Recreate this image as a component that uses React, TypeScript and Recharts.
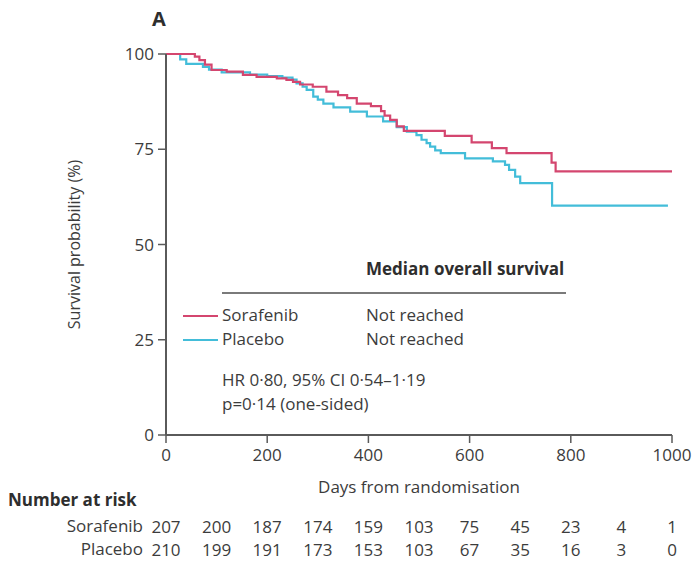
import React from 'react';
import { LineChart, Line, XAxis, YAxis } from 'recharts';

// Kaplan-Meier steps (days, survival %)
const sorafenibDays = [0, 57, 66, 77, 90, 120, 152, 179, 219, 238, 251, 265, 290, 317, 340, 358, 377, 405, 425, 432, 443, 456, 470, 551, 604, 644, 673, 762, 770, 1000];
const sorafenibPct = [100, 99.3, 98.4, 97.2, 95.8, 95.4, 94.5, 94.0, 93.6, 93.2, 92.7, 92.0, 91.4, 90.1, 89.2, 88.4, 87.0, 86.3, 85.0, 83.8, 82.7, 81.0, 79.8, 78.5, 76.8, 75.3, 74.0, 71.5, 69.2, 69.2];

const placeboDays = [0, 28, 40, 73, 85, 110, 166, 200, 230, 250, 258, 270, 278, 291, 300, 311, 331, 364, 397, 429, 456, 476, 495, 505, 515, 522, 532, 543, 591, 646, 670, 678, 690, 700, 763, 992];
const placeboPct = [100, 98.6, 97.4, 96.6, 95.9, 95.2, 94.6, 94.2, 93.8, 93.3, 92.3, 91.4, 90.6, 88.8, 88.0, 87.0, 86.0, 84.9, 83.6, 82.3, 80.8, 79.6, 78.7, 77.5, 76.6, 75.7, 74.7, 74.0, 72.6, 71.8, 70.9, 69.6, 67.8, 66.1, 60.2, 60.2];

const riskDays = [0, 100, 200, 300, 400, 500, 600, 700, 800, 900, 1000];
const sorafenibRisk = [207, 200, 187, 174, 159, 103, 75, 45, 23, 4, 1];
const placeboRisk = [210, 199, 191, 173, 153, 103, 67, 35, 16, 3, 0];
const xLabelled = [0, 200, 400, 600, 800, 1000];
const yTicks = [0, 25, 50, 75, 100];

const sorafenib = sorafenibDays.map((d, i) => ({ day: d, pct: sorafenibPct[i] }));
const placebo = placeboDays.map((d, i) => ({ day: d, pct: placeboPct[i] }));

const RED = '#d4466f';
const BLUE = '#43bdd9';
const AXIS = '#5a5a5a';
const TEXT = '#3c3c3c';
const FONT = '"Open Sans", sans-serif';

function RiskTick(props: any) {
  const { x, y, payload } = props;
  const v = payload.value;
  const idx = riskDays.indexOf(v);
  const axisY = y - 12;
  const labelled = xLabelled.includes(v);
  return (
    <g fontFamily={FONT} fontSize={17} fill={TEXT}>
      {labelled && <line x1={x} x2={x} y1={axisY} y2={axisY + 8} stroke={AXIS} strokeWidth={1.5} />}
      {labelled && (
        <text x={x} y={axisY + 26} textAnchor="middle" fill={TEXT}>{v}</text>
      )}
      <text x={x} y={axisY + 98} textAnchor="middle" fill={TEXT}>{sorafenibRisk[idx]}</text>
      <text x={x} y={axisY + 121} textAnchor="middle" fill={TEXT}>{placeboRisk[idx]}</text>
    </g>
  );
}

function Txt({ left, cy, size = 16, bold = false, children, width, align }: any) {
  return (
    <div
      style={{
        position: 'absolute',
        left,
        top: cy - size * 0.6,
        width,
        textAlign: align,
        fontSize: size,
        lineHeight: 1.1,
        fontWeight: bold ? 700 : 400,
        color: bold ? '#2e2e2e' : TEXT,
        whiteSpace: 'nowrap',
        fontFamily: FONT,
      }}
    >
      {children}
    </div>
  );
}

function Rule({ left, top, width, color, h = 2 }: any) {
  return <div style={{ position: 'absolute', left, top, width, height: h, background: color }} />;
}

export default function App() {
  return (
    <div style={{ position: 'absolute', left: 0, top: 0, width: 695, height: 561, background: '#fff', overflow: 'hidden' }}>
      <LineChart width={695} height={561} margin={{ top: 54, right: 23, bottom: 0, left: 0 }}>
        <XAxis
          type="number"
          dataKey="day"
          domain={[0, 1000]}
          ticks={riskDays}
          interval={0}
          height={126}
          tickSize={8}
          tickMargin={4}
          tickLine={false}
          axisLine={{ stroke: AXIS, strokeWidth: 2 }}
          tick={<RiskTick />}
          label={{ value: 'Days from randomisation', position: 'center', dy: -11, fill: TEXT, fontSize: 17, fontFamily: FONT }}
        />
        <YAxis
          type="number"
          domain={[0, 100]}
          ticks={yTicks}
          width={166}
          tickSize={8}
          tickMargin={4}
          axisLine={{ stroke: AXIS, strokeWidth: 2 }}
          tickLine={{ stroke: AXIS, strokeWidth: 1.5 }}
          tick={{ fill: TEXT, fontSize: 17, fontFamily: FONT }}
          label={{ value: 'Survival probability (%)', angle: -90, position: 'center', dx: -9, fill: TEXT, fontSize: 16, fontFamily: FONT }}
        />
        <Line data={placebo} dataKey="pct" type="stepAfter" stroke={BLUE} strokeWidth={2.2} dot={false} isAnimationActive={false} />
        <Line data={sorafenib} dataKey="pct" type="stepAfter" stroke={RED} strokeWidth={2.2} dot={false} isAnimationActive={false} />
      </LineChart>

      <Txt left={152} cy={20} size={20} bold>A</Txt>

      <Txt left={366} cy={270} size={17} bold>Median overall survival</Txt>
      <Rule left={222} top={292} width={344} color="#7a7a7a" />
      <Rule left={183} top={315} width={35} color={RED} />
      <Txt left={222} cy={316} size={17}>Sorafenib</Txt>
      <Txt left={366} cy={316} size={17}>Not reached</Txt>
      <Rule left={183} top={339} width={35} color={BLUE} />
      <Txt left={222} cy={340} size={17}>Placebo</Txt>
      <Txt left={366} cy={340} size={17}>Not reached</Txt>
      <Txt left={222} cy={381} size={17}>HR 0·80, 95% CI 0·54–1·19</Txt>
      <Txt left={222} cy={405} size={17}>p=0·14 (one-sided)</Txt>

      <Txt left={8} cy={501} size={17} bold>Number at risk</Txt>
      <Txt left={0} width={143} align="right" cy={527} size={17}>Sorafenib</Txt>
      <Txt left={0} width={143} align="right" cy={550} size={17}>Placebo</Txt>
    </div>
  );
}
